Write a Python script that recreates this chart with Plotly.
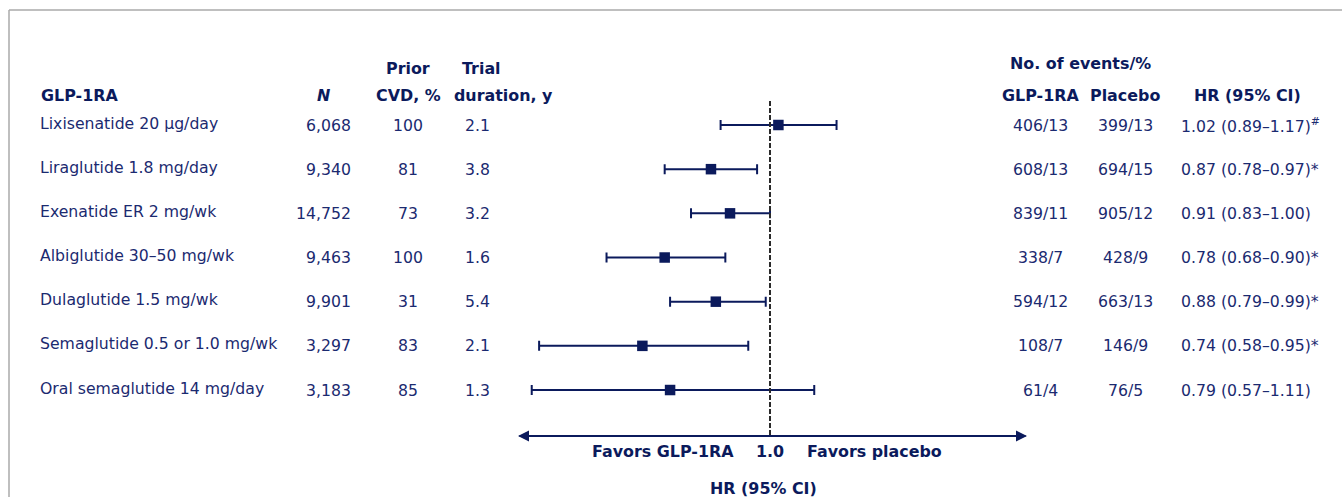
import plotly.graph_objects as go

# ---------------- data ----------------
drugs = ["Lixisenatide 20 µg/day", "Liraglutide 1.8 mg/day", "Exenatide ER 2 mg/wk",
         "Albiglutide 30–50 mg/wk", "Dulaglutide 1.5 mg/wk", "Semaglutide 0.5 or 1.0 mg/wk",
         "Oral semaglutide 14 mg/day"]
n_patients = ["6,068", "9,340", "14,752", "9,463", "9,901", "3,297", "3,183"]
prior_cvd = ["100", "81", "73", "100", "31", "83", "85"]
duration = ["2.1", "3.8", "3.2", "1.6", "5.4", "2.1", "1.3"]
events_glp = ["406/13", "608/13", "839/11", "338/7", "594/12", "108/7", "61/4"]
events_pbo = ["399/13", "694/15", "905/12", "428/9", "663/13", "146/9", "76/5"]
hr = [1.02, 0.87, 0.91, 0.78, 0.88, 0.74, 0.79]
hr_lo = [0.89, 0.78, 0.83, 0.68, 0.79, 0.58, 0.57]
hr_hi = [1.17, 0.97, 1.00, 0.90, 0.99, 0.95, 1.11]
hr_mark = ["<sup>#</sup>", "*", "", "*", "*", "*", ""]

# ---------------- layout constants ----------------
W, H = 1342, 497
ROW0, STEP = 125.0, 44.17          # pixel y of first row, row spacing
def ry(px):                         # pixel y -> row-index coordinate
    return (px - ROW0) / STEP
def px_x(px):
    return px / W
def px_y(px):
    return 1 - px / H

NAVY = "#0b1a5c"
TXT = "#1b2a70"
FONT = "DejaVu Sans"
FS = 15.7
FSB = 15.9

rows = list(range(len(drugs)))
hr_text = [f"{h:.2f} ({l:.2f}–{u:.2f}){m}" for h, l, u, m in zip(hr, hr_lo, hr_hi, hr_mark)]

fig = go.Figure()
fig.add_trace(go.Scatter(
    x=hr, y=rows, mode="markers",
    marker=dict(symbol="square", size=10.5, color=NAVY),
    error_x=dict(type="data", symmetric=False,
                 array=[u - h for h, u in zip(hr, hr_hi)],
                 arrayminus=[h - l for h, l in zip(hr, hr_lo)],
                 color=NAVY, thickness=2, width=5),
    hoverinfo="skip", showlegend=False))

# forest axis: log scale, pixel = 770 + 976*log10(HR)
left_px, right_px = 518, 1027
fig.update_xaxes(type="log", range=[(left_px - 770) / 976, (right_px - 770) / 976],
                 domain=[left_px / W, right_px / W], visible=False)
fig.update_yaxes(range=[ry(H), ry(0)], domain=[0, 1], visible=False)

ann = []
def txt(x, y, s, anchor="center", bold=False, color=TXT, yref="paper", xref="paper"):
    ann.append(dict(x=x, y=y, xref=xref, yref=yref, text=(f"<b>{s}</b>" if bold else s),
                    showarrow=False, xanchor=anchor, yanchor="middle",
                    font=dict(family=FONT, size=(FSB if bold else FS), color=color)))

# headers
txt(px_x(39), px_y(96), "GLP-1RA", "left", True, NAVY)
txt(px_x(323), px_y(96), "<i>N</i>", "center", True, NAVY)
txt(px_x(408), px_y(68), "Prior", "center", True, NAVY)
txt(px_x(408), px_y(96), "CVD, %", "center", True, NAVY)
txt(px_x(481), px_y(68), "Trial", "center", True, NAVY)
txt(px_x(503), px_y(96), "duration, y", "center", True, NAVY)
txt(px_x(1080), px_y(64), "No. of events/%", "center", True, NAVY)
txt(px_x(1040), px_y(96), "GLP-1RA", "center", True, NAVY)
txt(px_x(1125), px_y(96), "Placebo", "center", True, NAVY)
txt(px_x(1247), px_y(96), "HR (95% CI)", "center", True, NAVY)

# table rows
for i in rows:
    txt(px_x(38), i - 2 / STEP, drugs[i], "left", yref="y")
    txt(px_x(353), i, n_patients[i], "right", yref="y")
    txt(px_x(408), i, prior_cvd[i], "center", yref="y")
    txt(px_x(477), i, duration[i], "center", yref="y")
    txt(px_x(1040), i, events_glp[i], "center", yref="y")
    txt(px_x(1125), i, events_pbo[i], "center", yref="y")
    txt(px_x(1179), i, hr_text[i], "left", yref="y")

# axis labels (x on the log axis is given as log10 of the value)
txt(px_x(663), px_y(451), "Favors GLP-1RA", "center", True, NAVY)
txt(0.0, px_y(451), "1.0", "center", True, NAVY, xref="x")
txt(px_x(874), px_y(451), "Favors placebo", "center", True, NAVY)
txt(px_x(764), px_y(488), "HR (95% CI)", "center", True, NAVY)

# double-headed arrow
arrow_y = px_y(436)
for tip, off in ((left_px, right_px - left_px), (right_px, -(right_px - left_px))):
    ann.append(dict(x=tip / W, y=arrow_y, xref="paper", yref="paper", text="",
                    showarrow=True, ax=off, ay=0, arrowhead=2, arrowsize=1.1,
                    arrowwidth=2, arrowcolor=NAVY, standoff=0, startstandoff=0))

shapes = [
    # reference line at HR = 1
    dict(type="line", xref="x", yref="y", x0=1, x1=1, y0=ry(101), y1=ry(436),
         line=dict(color="#2a2a2a", width=2, dash="5px,2px")),
    # frame
    dict(type="line", xref="paper", yref="paper", x0=px_x(9), x1=1.0, y0=px_y(10), y1=px_y(10),
         line=dict(color="#aaaaaa", width=1.5)),
    dict(type="line", xref="paper", yref="paper", x0=px_x(9), x1=px_x(9), y0=px_y(10), y1=0,
         line=dict(color="#aaaaaa", width=1.5)),
]

fig.update_layout(width=W, height=H, margin=dict(l=0, r=0, t=0, b=0),
                  paper_bgcolor="white", plot_bgcolor="white",
                  annotations=ann, shapes=shapes, showlegend=False)

fig.write_html("out.html", config={"displayModeBar": False},
               post_script="document.body.style.margin='0';document.body.style.overflow='hidden';")
